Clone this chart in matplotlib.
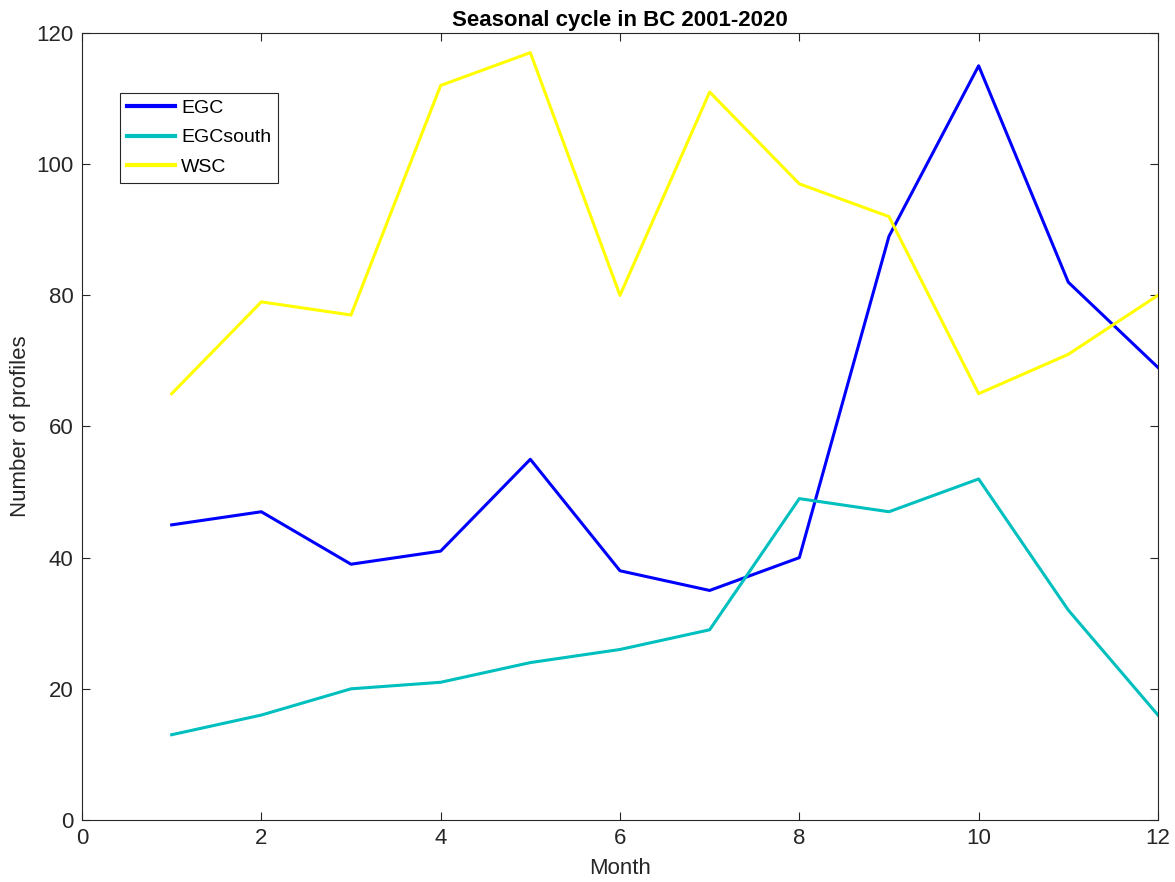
import matplotlib
matplotlib.use('Agg')
import matplotlib.pyplot as plt

plt.rcParams['font.family'] = ['Liberation Sans', 'DejaVu Sans']

months = [1, 2, 3, 4, 5, 6, 7, 8, 9, 10, 11, 12]
egc = [45, 47, 39, 41, 55, 38, 35, 40, 89, 115, 82, 69]
egc_south = [13, 16, 20, 21, 24, 26, 29, 49, 47, 52, 32, 16]
wsc = [65, 79, 77, 112, 117, 80, 111, 97, 92, 65, 71, 80]

fig = plt.figure(figsize=(11.75, 8.82), dpi=100)
ax = fig.add_axes([0.0698, 0.0703, 0.9157, 0.8923])

ax.plot(months, egc, color='#0000ff', lw=2.2, label='EGC')
ax.plot(months, egc_south, color='#00bfbf', lw=2.2, label='EGCsouth')
ax.plot(months, wsc, color='#ffff00', lw=2.2, label='WSC')

ax.set_xlim(0, 12)
ax.set_ylim(0, 120)
ax.set_xticks(range(0, 13, 2))
ax.set_yticks(range(0, 121, 20))

# matlab-ish box with inward ticks
ax.tick_params(direction='in', top=True, right=True, length=6, width=0.8,
               labelsize=16, colors='#262626', pad=6)
for s in ax.spines.values():
    s.set_color('#262626')
    s.set_linewidth(0.8)

ax.set_xlabel('Month', fontsize=16, color='#262626', labelpad=6)
ax.set_ylabel('Number of profiles', fontsize=16, color='#262626', labelpad=4)
ax.set_title('Seasonal cycle in BC 2001-2020', fontsize=16, fontweight='bold', pad=5)

leg = ax.legend(loc='upper left', bbox_to_anchor=(0.0353, 0.924), borderaxespad=0,
                fontsize=14, fancybox=False, edgecolor='#262626', framealpha=1,
                handlelength=2.5, handletextpad=0.3, borderpad=0.35, labelspacing=0.6)
leg.get_frame().set_linewidth(0.8)
for line in leg.get_lines():
    line.set_linewidth(3)

plt.savefig('out.png', dpi=100)
